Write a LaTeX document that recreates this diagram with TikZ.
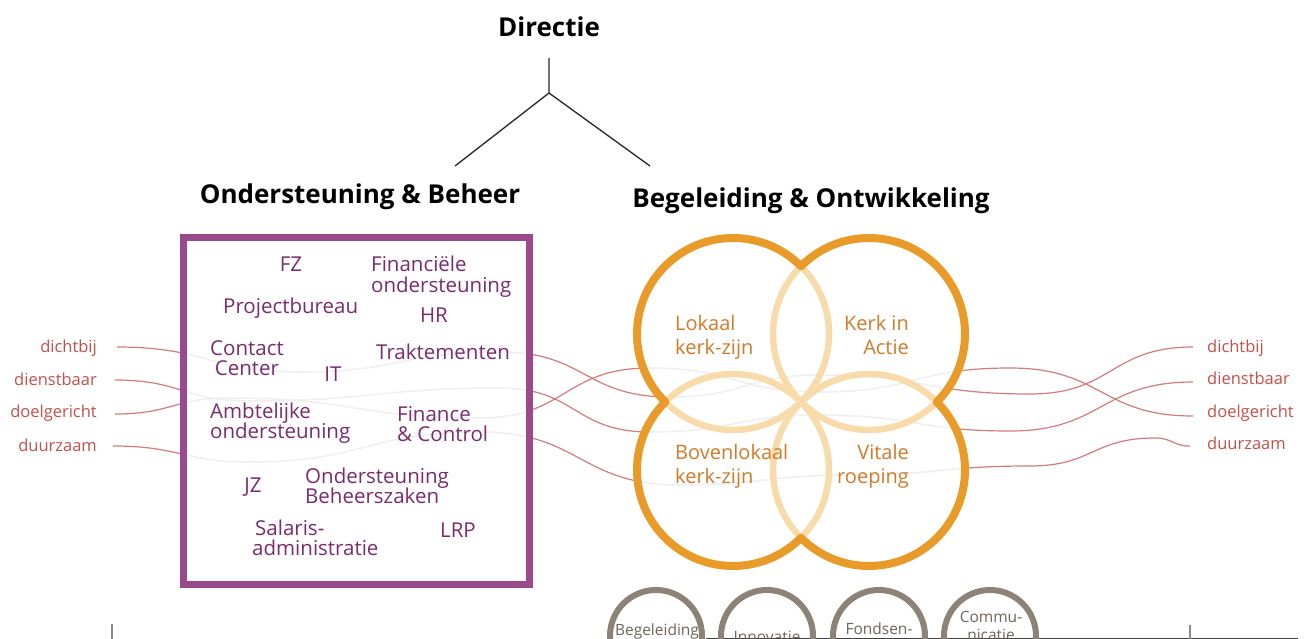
\documentclass[tikz,border=0pt]{standalone}
\usepackage{fontspec}
\setmainfont{Open Sans}
\definecolor{purpleBox}{HTML}{9A4A8C}
\definecolor{purpleText}{HTML}{7A2C6C}
\definecolor{orangeL}{HTML}{E99B2A}
\definecolor{paleOr}{HTML}{F8DBAA}
\definecolor{orangeText}{HTML}{D27A28}
\definecolor{redLine}{HTML}{D27C7C}
\definecolor{redText}{HTML}{C4504A}
\definecolor{taupe}{HTML}{8D8276}
\definecolor{taupeText}{HTML}{6F655B}
\definecolor{faintLine}{HTML}{EFEFEF}
\begin{document}
\begin{tikzpicture}[x=1pt,y=1pt,
  head/.style={font=\bfseries\fontsize{26}{30}\selectfont, text=black, inner sep=0pt},
  tree/.style={draw=black!85, line width=1.3pt},
  ptext/.style={font=\fontsize{20.5}{24}\selectfont, text=purpleText, inner sep=0pt},
  otext/.style={font=\fontsize{20}{24}\selectfont, text=orangeText, inner sep=0pt},
  lbl/.style={font=\fontsize{16.5}{19}\selectfont, text=redText, inner sep=0pt},
  btext/.style={font=\fontsize{15.5}{18}\selectfont, text=taupeText, inner sep=0pt},
  wv/.style={out=0, in=180, looseness=1.25},
  redwave/.style={draw=redLine, line width=1.2pt},
  faintwave/.style={draw=faintLine, line width=1.5pt},
  palering/.style={draw=paleOr, line width=6.5pt},
  outerarc/.style={draw=orangeL, line width=8pt, line cap=round},
  taupering/.style={circle, draw=taupe, line width=6pt, minimum size=92pt, inner sep=0pt}
]
\clip (0,0) rectangle (1304,-639);
\fill[white] (0,0) rectangle (1304,-639);

% ---- tree ----
\node[head, anchor=base] (dir) at (549,-37) {Directie};
\coordinate (dtop) at (549,-58);
\coordinate (br) at (549,-93);
\coordinate (lb) at (455,-166);
\coordinate (rb) at (650,-166);
\draw[tree] (dtop) -- (br) -- (lb);
\draw[tree] (br) -- (rb);
\node[head, anchor=base] (ob) at (360,-204) {Ondersteuning \& Beheer};
\node[head, anchor=base] (bo) at (811,-208) {Begeleiding \& Ontwikkeling};

% ---- value labels ----
\node[lbl, anchor=base east] (l1) at (97,-352) {dichtbij};
\node[lbl, anchor=base east] (l2) at (97,-385) {dienstbaar};
\node[lbl, anchor=base east] (l3) at (97,-417) {doelgericht};
\node[lbl, anchor=base east] (l4) at (97,-451) {duurzaam};
\node[lbl, anchor=base west] (r1) at (1207,-352) {dichtbij};
\node[lbl, anchor=base west] (r2) at (1207,-384) {dienstbaar};
\node[lbl, anchor=base west] (r3) at (1207,-417) {doelgericht};
\node[lbl, anchor=base west] (r4) at (1207,-449) {duurzaam};

\coordinate (a1) at (117,-347); \coordinate (b1) at (1193,-347);
\coordinate (a2) at (115,-380); \coordinate (b2) at (1193,-382);
\coordinate (a3) at (115,-414); \coordinate (b3) at (1193,-416);
\coordinate (a4) at (113,-446); \coordinate (b4) at (1190,-446);

\def\waveA{(a1) to[wv] (300,-372) to[wv] (500,-352) to[wv] (670,-397) to[wv] (820,-375) to[wv] (1030,-394) to[wv] (b1)}
\def\waveB{(a2) to[wv] (250,-401) to[wv] (500,-388) to[wv] (650,-432) to[wv] (820,-415) to[wv] (1010,-431) to[wv] (b2)}
\def\waveC{(a3) to[wv] (230,-398) to[wv] (480,-418) to[wv] (650,-368) to[wv] (820,-392) to[wv] (1010,-368) to[wv] (b3)}
\def\waveD{(a4) to[wv] (250,-462) to[wv] (480,-432) to[wv] (680,-485) to[wv] (850,-475) to[wv] (1030,-466) to[wv] (1155,-438) to[wv] (b4)}

\draw[redwave] \waveA;
\draw[redwave] \waveB;
\draw[redwave] \waveC;
\draw[redwave] \waveD;

% ---- cover interiors ----
\coordinate (ctl) at (733,-334);
\coordinate (ctr) at (869,-334);
\coordinate (cbl) at (733,-470);
\coordinate (cbr) at (869,-470);
\fill[white] (183.5,-237.5) rectangle (529.5,-584.5);
\fill[white] (ctl) circle[radius=96] (ctr) circle[radius=96] (cbl) circle[radius=96] (cbr) circle[radius=96];

\begin{scope}
  \clip (183.5,-237.5) rectangle (529.5,-584.5);
  \draw[faintwave] \waveA; \draw[faintwave] \waveB; \draw[faintwave] \waveC; \draw[faintwave] \waveD;
\end{scope}
\begin{scope}
  \clip (ctl) circle[radius=96] (ctr) circle[radius=96] (cbl) circle[radius=96] (cbr) circle[radius=96];
  \draw[faintwave] \waveA; \draw[faintwave] \waveB; \draw[faintwave] \waveC; \draw[faintwave] \waveD;
\end{scope}

% ---- purple box ----
\node[draw=purpleBox, line width=7pt, minimum width=346pt, minimum height=347pt, inner sep=0pt] (box) at (356.5,-411) {};

\node[ptext, anchor=base] (fz) at (291,-272) {FZ};
\node[ptext, anchor=base west] (fo1) at (371,-272) {Financiële};
\node[ptext, anchor=base west] (fo2) at (371,-292) {ondersteuning};
\node[ptext, anchor=base west] (pb) at (223,-313) {Projectbureau};
\node[ptext, anchor=base] (hr) at (434,-322) {HR};
\node[ptext, anchor=base] (cc1) at (247,-355) {Contact};
\node[ptext, anchor=base] (cc2) at (247,-375) {Center};
\node[ptext, anchor=base] (it) at (333,-381) {IT};
\node[ptext, anchor=base west] (tr) at (376,-359) {Traktementen};
\node[ptext, anchor=base west] (ao1) at (210,-418) {Ambtelijke};
\node[ptext, anchor=base west] (ao2) at (210,-438) {ondersteuning};
\node[ptext, anchor=base west] (fc1) at (397,-421) {Finance};
\node[ptext, anchor=base west] (fc2) at (397,-441) {\& Control};
\node[ptext, anchor=base] (jz) at (253,-492) {JZ};
\node[ptext, anchor=base west] (obz1) at (305,-483) {Ondersteuning};
\node[ptext, anchor=base west] (obz2) at (305,-503) {Beheerszaken};
\node[ptext, anchor=base west] (sa1) at (255,-535) {Salaris-};
\node[ptext, anchor=base west] (sa2) at (252,-555) {administratie};
\node[ptext, anchor=base] (lrp) at (458,-537) {LRP};

% ---- orange rings ----
\draw[palering] (ctl) circle[radius=96];
\draw[palering] (ctr) circle[radius=96];
\draw[palering] (cbl) circle[radius=96];
\draw[palering] (cbr) circle[radius=96];
\draw[outerarc] (ctl) ++(45:96) arc[start angle=45, end angle=225, radius=96];
\draw[outerarc] (ctr) ++(-45:96) arc[start angle=-45, end angle=135, radius=96];
\draw[outerarc] (cbl) ++(135:96) arc[start angle=135, end angle=315, radius=96];
\draw[outerarc] (cbr) ++(225:96) arc[start angle=225, end angle=405, radius=96];

\node[otext, anchor=base west] (lk1) at (675,-330) {Lokaal};
\node[otext, anchor=base west] (lk2) at (675,-354) {kerk-zijn};
\node[otext, anchor=base east] (ka1) at (909,-330) {Kerk in};
\node[otext, anchor=base east] (ka2) at (909,-354) {Actie};
\node[otext, anchor=base west] (bk1) at (675,-459) {Bovenlokaal};
\node[otext, anchor=base west] (bk2) at (675,-483) {kerk-zijn};
\node[otext, anchor=base east] (vr1) at (909,-459) {Vitale};
\node[otext, anchor=base east] (vr2) at (909,-483) {roeping};

% ---- bottom ----
\coordinate (bl0) at (706,-638.5);
\coordinate (bl1) at (1298,-638.5);
\draw[draw=black!75, line width=1.5pt] (bl0) -- (bl1);
\coordinate (tk1a) at (112,-624); \coordinate (tk1b) at (112,-640);
\coordinate (tk2a) at (1190,-625); \coordinate (tk2b) at (1190,-640);
\draw[draw=black!45, line width=1.5pt] (tk1a) -- (tk1b);
\draw[draw=black!45, line width=1.5pt] (tk2a) -- (tk2b);

\node[taupering] (c1) at (656,-636) {};
\node[taupering] (c2) at (767,-636) {};
\node[taupering] (c3) at (879,-636) {};
\node[taupering] (c4) at (990,-636) {};
\node[btext, anchor=base] (t1) at (657,-635) {Begeleiding};
\node[btext, anchor=base] (t2) at (767,-642) {Innovatie};
\node[btext, anchor=base] (t3) at (879,-634) {Fondsen-};
\node[btext, anchor=base] (t4a) at (991,-622) {Commu-};
\node[btext, anchor=base] (t4b) at (991,-640) {nicatie};
\end{tikzpicture}
\end{document}
